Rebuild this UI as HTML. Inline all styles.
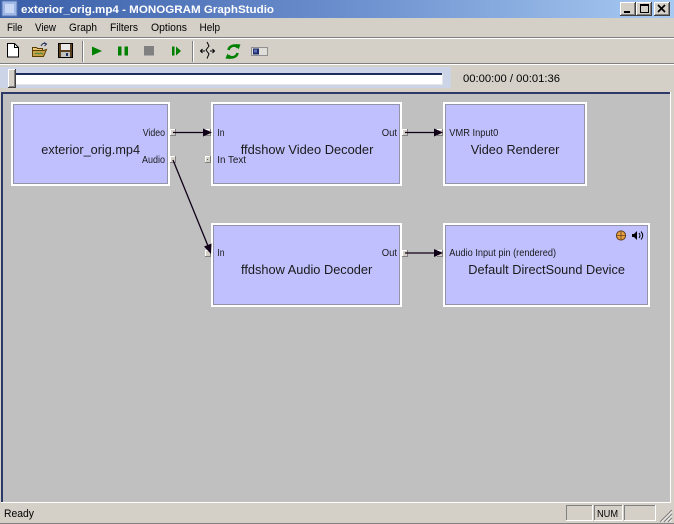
<!DOCTYPE html>
<html><head><meta charset="utf-8"><style>
html,body{margin:0;padding:0;width:674px;height:524px;overflow:hidden;background:#d4d0c8}
svg{display:block}
text{font-family:"Liberation Sans",Arial,sans-serif}
</style></head><body>
<svg width="674" height="524" viewBox="0 0 674 524" xmlns="http://www.w3.org/2000/svg">
<defs>
<linearGradient id="tb" x1="0" x2="1" y1="0" y2="0">
<stop offset="0" stop-color="#3a5ea8"/><stop offset="0.55" stop-color="#6f93d0"/><stop offset="1" stop-color="#a8caf2"/>
</linearGradient>
</defs>
<rect width="674" height="524" fill="#d4d0c8"/>
<!-- title bar -->
<rect x="0" y="0" width="674" height="18" fill="url(#tb)"/>
<rect x="2" y="1" width="15" height="15" fill="#9fb8e8" stroke="#5a78b0" stroke-width="1"/>
<rect x="5" y="4" width="9" height="9" fill="#c8d8f4"/>
<text x="21" y="13" font-size="11" font-weight="bold" fill="#fff" textLength="253" lengthAdjust="spacingAndGlyphs">exterior_orig.mp4 - MONOGRAM GraphStudio</text>
<!-- window buttons -->
<g>
<rect x="620" y="2" width="16" height="14" fill="#404040"/><rect x="620" y="2" width="15" height="13" fill="#fff"/><rect x="621" y="3" width="14" height="12" fill="#808080"/><rect x="621" y="3" width="13" height="11" fill="#d4d0c8"/>
<rect x="624" y="11" width="6" height="2" fill="#000"/>
<rect x="636" y="2" width="16" height="14" fill="#404040"/><rect x="636" y="2" width="15" height="13" fill="#fff"/><rect x="637" y="3" width="14" height="12" fill="#808080"/><rect x="637" y="3" width="13" height="11" fill="#d4d0c8"/>
<rect x="640.5" y="4.5" width="8" height="8" fill="none" stroke="#000"/><rect x="640" y="4" width="9" height="2" fill="#000"/>
<rect x="654" y="2" width="16" height="14" fill="#404040"/><rect x="654" y="2" width="15" height="13" fill="#fff"/><rect x="655" y="3" width="14" height="12" fill="#808080"/><rect x="655" y="3" width="13" height="11" fill="#d4d0c8"/>
<path d="M658 5 L665 12 M665 5 L658 12" stroke="#000" stroke-width="1.7"/>
</g>
<!-- menu -->
<g font-size="11" fill="#000">
<text x="7" y="31" textLength="15.5" lengthAdjust="spacingAndGlyphs">File</text>
<text x="35" y="31" textLength="21" lengthAdjust="spacingAndGlyphs">View</text>
<text x="69" y="31" textLength="28" lengthAdjust="spacingAndGlyphs">Graph</text>
<text x="110" y="31" textLength="28" lengthAdjust="spacingAndGlyphs">Filters</text>
<text x="151" y="31" textLength="36" lengthAdjust="spacingAndGlyphs">Options</text>
<text x="199.5" y="31" textLength="20.5" lengthAdjust="spacingAndGlyphs">Help</text>
</g>
<rect x="0" y="37" width="674" height="1" fill="#808080"/><rect x="0" y="38" width="674" height="1" fill="#fff"/>
<!-- toolbar -->
<path d="M7.5 43.5 h7 l4 4 v9.5 h-11 z" fill="#fff" stroke="#000"/>
<path d="M14.5 43.5 v4 h4" fill="none" stroke="#000"/>
<path d="M32.5 47.5 h4 l1 1 h5 v2 h-10 z" fill="#e8c878" stroke="#5a4000"/>
<path d="M32.5 56.5 v-6 h11 l3 -1 l-3 7 z" fill="#c8a048" stroke="#5a4000"/>
<path d="M35 54 l2 -1 l2 1 l2 -1 l2 1" stroke="#3a8a3a" fill="none"/>
<path d="M41 46 q2 -4 5 -2" stroke="#203060" fill="none"/><path d="M44 42.5 l2.5 1.5 l-2 2" stroke="#203060" fill="none"/>
<rect x="58.5" y="43.5" width="14" height="14" fill="#5a4020" stroke="#000"/>
<rect x="61" y="44" width="9" height="6" fill="#e8e8e8"/>
<rect x="61" y="52" width="9" height="5" fill="#c0c0c0"/><rect x="66" y="53" width="2" height="3" fill="#203060"/>
<rect x="82" y="41" width="1" height="21" fill="#808080"/><rect x="83" y="41" width="1" height="21" fill="#fff"/>
<polygon points="92,46.5 102,51 92,55.5" fill="#008000"/>
<rect x="118" y="46.5" width="3.5" height="9" fill="#008000"/><rect x="124.5" y="46.5" width="3.5" height="9" fill="#008000"/>
<rect x="144" y="46" width="10" height="9.5" fill="#808080"/>
<rect x="172" y="46.5" width="2.5" height="9" fill="#008000"/><polygon points="176,46.5 181,51 176,55.5" fill="#008000"/>
<rect x="192" y="41" width="1" height="21" fill="#808080"/><rect x="193" y="41" width="1" height="21" fill="#fff"/>
<path d="M205 51 H200.5 M202.5 49 L200.5 51 L202.5 53 M210 51 H214.5 M212.5 49 L214.5 51 L212.5 53 M207 42 L209 46 L206 50 L209 54 L207 58.5" stroke="#000" fill="none"/>
<path d="M228.5 50 A5.5 5.5 0 0 1 238 47.5" stroke="#008000" stroke-width="2.6" fill="none"/>
<polygon points="235.5,44 240.5,44.5 238.5,49.5" fill="#008000"/>
<path d="M237.5 53 A5.5 5.5 0 0 1 228 55.5" stroke="#008000" stroke-width="2.6" fill="none"/>
<polygon points="230.5,59 225.5,58.5 227.5,53.5" fill="#008000"/>
<rect x="251.5" y="47.5" width="16" height="8" fill="#e0ded8" stroke="#909090"/>
<rect x="253" y="48.5" width="6" height="6" fill="#1c2c6c"/><rect x="254" y="49.5" width="3" height="3" fill="#6070b0"/>
<rect x="0" y="63" width="674" height="1" fill="#808080"/><rect x="0" y="64" width="674" height="1" fill="#fff"/>
<!-- slider -->
<rect x="0" y="67" width="451" height="21" fill="#ccd4e8"/>
<rect x="16" y="73" width="427" height="12" fill="#e6e6e6"/>
<rect x="16" y="73" width="426" height="2" fill="#1c2c5c"/>
<rect x="16" y="75" width="426" height="9" fill="#fff"/>
<rect x="8" y="69" width="8" height="19" fill="#404040"/><rect x="8" y="69" width="7" height="18" fill="#fff"/><rect x="9" y="70" width="6" height="17" fill="#808080"/><rect x="9" y="70" width="5" height="16" fill="#d4d0c8"/>
<text x="463" y="82" font-size="11" fill="#000" textLength="97" lengthAdjust="spacingAndGlyphs">00:00:00 / 00:01:36</text>
<!-- canvas -->
<rect x="1" y="92" width="670" height="411" fill="#fff"/>
<rect x="1" y="92" width="669" height="410" fill="#2c3868"/>
<rect x="3" y="94" width="667" height="408" fill="#c0c0c0"/>
<!-- nodes -->
<g>
<rect x="11" y="102" width="159" height="84" fill="#fff"/><rect x="13" y="104" width="155" height="80" fill="#9494a8"/><rect x="14" y="105" width="153" height="78" fill="#c0c0ff"/>
<rect x="211" y="102" width="191" height="84" fill="#fff"/><rect x="213" y="104" width="187" height="80" fill="#9494a8"/><rect x="214" y="105" width="185" height="78" fill="#c0c0ff"/>
<rect x="443" y="102" width="144" height="84" fill="#fff"/><rect x="445" y="104" width="140" height="80" fill="#9494a8"/><rect x="446" y="105" width="138" height="78" fill="#c0c0ff"/>
<rect x="211" y="223" width="191" height="84" fill="#fff"/><rect x="213" y="225" width="187" height="80" fill="#9494a8"/><rect x="214" y="226" width="185" height="78" fill="#c0c0ff"/>
<rect x="443" y="223" width="207" height="84" fill="#fff"/><rect x="445" y="225" width="203" height="80" fill="#9494a8"/><rect x="446" y="226" width="201" height="78" fill="#c0c0ff"/>
</g>
<!-- pins -->
<g>
<g transform="translate(170,129)"><rect width="6" height="7" fill="#808080"/><rect width="5" height="6" fill="#fff"/><rect x="1" y="1" width="4" height="5" fill="#d4d0c8"/></g>
<g transform="translate(170,156)"><rect width="6" height="7" fill="#808080"/><rect width="5" height="6" fill="#fff"/><rect x="1" y="1" width="4" height="5" fill="#d4d0c8"/></g>
<g transform="translate(205,129)"><rect width="6" height="7" fill="#808080"/><rect width="5" height="6" fill="#fff"/><rect x="1" y="1" width="4" height="5" fill="#d4d0c8"/></g>
<g transform="translate(205,156)"><rect width="6" height="7" fill="#808080"/><rect width="5" height="6" fill="#fff"/><rect x="1" y="1" width="4" height="5" fill="#d4d0c8"/><rect x="2" y="3" width="1" height="1" fill="#606060"/></g>
<g transform="translate(402,129)"><rect width="6" height="7" fill="#808080"/><rect width="5" height="6" fill="#fff"/><rect x="1" y="1" width="4" height="5" fill="#d4d0c8"/></g>
<g transform="translate(437,129)"><rect width="6" height="7" fill="#808080"/><rect width="5" height="6" fill="#fff"/><rect x="1" y="1" width="4" height="5" fill="#d4d0c8"/></g>
<g transform="translate(205,250)"><rect width="6" height="7" fill="#808080"/><rect width="5" height="6" fill="#fff"/><rect x="1" y="1" width="4" height="5" fill="#d4d0c8"/></g>
<g transform="translate(402,250)"><rect width="6" height="7" fill="#808080"/><rect width="5" height="6" fill="#fff"/><rect x="1" y="1" width="4" height="5" fill="#d4d0c8"/></g>
<g transform="translate(437,250)"><rect width="6" height="7" fill="#808080"/><rect width="5" height="6" fill="#fff"/><rect x="1" y="1" width="4" height="5" fill="#d4d0c8"/></g>
</g>
<!-- connectors -->
<g stroke="#100018" stroke-width="1.3" fill="none">
<line x1="173" y1="132.5" x2="204" y2="132.5"/>
<line x1="405" y1="132.5" x2="435" y2="132.5"/>
<line x1="405" y1="253" x2="435" y2="253"/>
<line x1="173" y1="160" x2="208" y2="246"/>
</g>
<g fill="#100018">
<polygon points="203,128.5 212,132.5 203,136.5"/>
<polygon points="434,128.5 443,132.5 434,136.5"/>
<polygon points="434,249 443,253 434,257"/>
<polygon points="204,246.5 211,254 211.5,243.5"/>
</g>
<!-- node labels -->
<g fill="#1a1a1a" font-size="13">
<text x="41.3" y="154" textLength="98.7" lengthAdjust="spacingAndGlyphs">exterior_orig.mp4</text>
<text x="240.7" y="154" textLength="132.7" lengthAdjust="spacingAndGlyphs">ffdshow Video Decoder</text>
<text x="470.7" y="154" textLength="88.7" lengthAdjust="spacingAndGlyphs">Video Renderer</text>
<text x="241" y="274" textLength="131.3" lengthAdjust="spacingAndGlyphs">ffdshow Audio Decoder</text>
<text x="468.3" y="274" textLength="156.7" lengthAdjust="spacingAndGlyphs">Default DirectSound Device</text>
</g>
<g fill="#1a1a1a" font-size="10">
<text x="142.7" y="136" textLength="22.3" lengthAdjust="spacingAndGlyphs">Video</text>
<text x="142" y="163" textLength="23" lengthAdjust="spacingAndGlyphs">Audio</text>
<text x="217.3" y="136" textLength="7.2" lengthAdjust="spacingAndGlyphs">In</text>
<text x="217.3" y="163" textLength="28.7" lengthAdjust="spacingAndGlyphs">In Text</text>
<text x="381.7" y="136" textLength="15.3" lengthAdjust="spacingAndGlyphs">Out</text>
<text x="449.3" y="136" textLength="49" lengthAdjust="spacingAndGlyphs">VMR Input0</text>
<text x="217.3" y="256" textLength="7.2" lengthAdjust="spacingAndGlyphs">In</text>
<text x="381.7" y="256" textLength="15.3" lengthAdjust="spacingAndGlyphs">Out</text>
<text x="449.3" y="256" textLength="106.7" lengthAdjust="spacingAndGlyphs">Audio Input pin (rendered)</text>
</g>
<!-- directsound icons -->
<circle cx="621" cy="235.5" r="4.6" fill="#e8a040" stroke="#604020" stroke-width="1"/>
<path d="M621 231.5 V239.5 M617 235.5 H625" stroke="#604020" stroke-width="0.8"/>
<path d="M632 234 h2 l3 -3 v9 l-3 -3 h-2 z" fill="#000"/>
<path d="M639 233 q2 2.5 0 5 M641 231.5 q3.5 4 0 8" stroke="#000" fill="none" stroke-width="1"/>
<!-- status bar -->
<text x="4" y="517" font-size="11" fill="#000" textLength="30" lengthAdjust="spacingAndGlyphs">Ready</text>
<rect x="566" y="505" width="27" height="16" fill="#fff"/><rect x="566" y="505" width="26" height="15" fill="#808080"/><rect x="567" y="506" width="25" height="14" fill="#d4d0c8"/>
<rect x="594" y="505" width="29" height="16" fill="#fff"/><rect x="594" y="505" width="28" height="15" fill="#808080"/><rect x="595" y="506" width="27" height="14" fill="#d4d0c8"/>
<text x="597" y="517" font-size="10" fill="#000" textLength="21" lengthAdjust="spacingAndGlyphs">NUM</text>
<rect x="624" y="505" width="32" height="16" fill="#fff"/><rect x="624" y="505" width="31" height="15" fill="#808080"/><rect x="625" y="506" width="30" height="14" fill="#d4d0c8"/>
<path d="M672 510 L660 522 M672 514 L664 522 M672 518 L668 522" stroke="#808080" stroke-width="1.2"/>
<path d="M672 511.5 L661.5 522 M672 515.5 L665.5 522 M672 519.5 L669.5 522" stroke="#fff" stroke-width="0.8"/>
<rect x="0" y="523" width="674" height="1" fill="#808080"/>
</svg>
</body></html>
